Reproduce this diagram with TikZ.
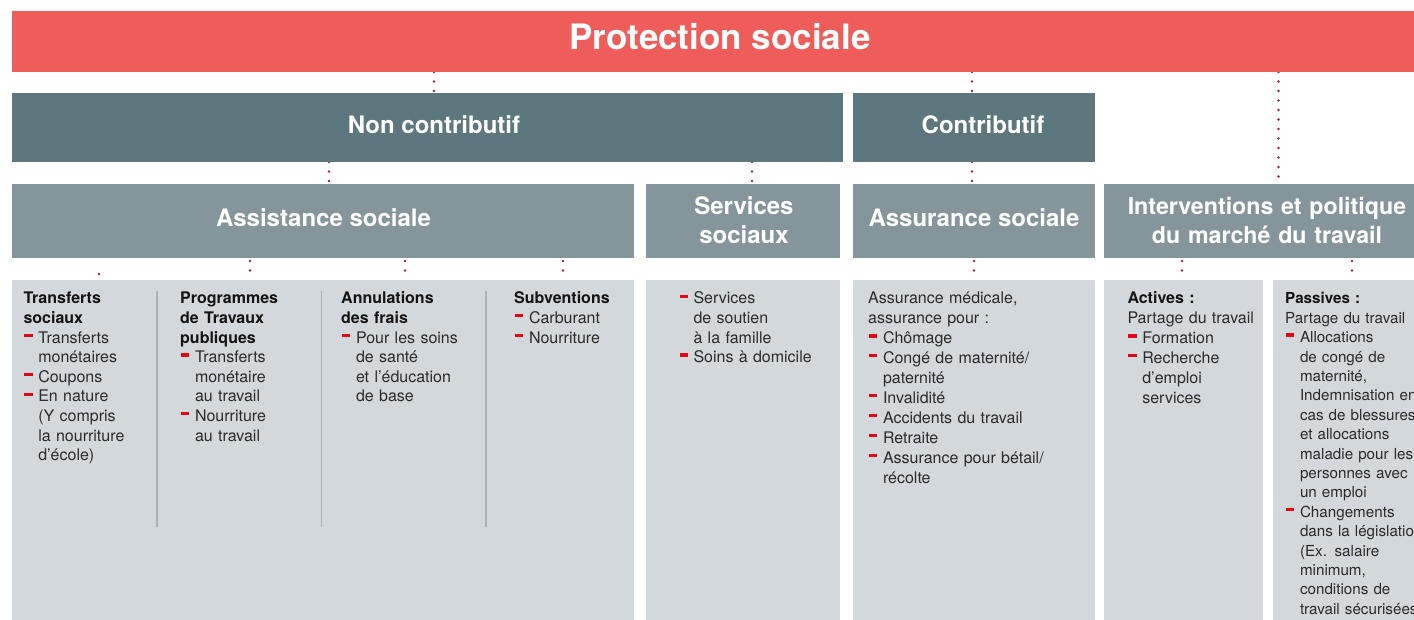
\documentclass[tikz,border=0pt]{standalone}
\usepackage{fontspec}
\setmainfont{TeX Gyre Heros}
\definecolor{protred}{HTML}{EE5D5A}
\definecolor{darkteal}{HTML}{5C777D}
\definecolor{midteal}{HTML}{84969B}
\definecolor{panelgray}{HTML}{D2D8DB}
\definecolor{dotred}{HTML}{A3202F}
\definecolor{bulred}{HTML}{E30613}
\definecolor{bodytext}{HTML}{2B2B2B}
\definecolor{headtext}{HTML}{141414}
\definecolor{divgray}{HTML}{A9B3B7}
\pgfdeclarelayer{bg}
\pgfsetlayers{bg,main}
\newcommand\bdash{\makebox[14.8pt][l]{\hspace{0.9pt}\textcolor{bulred}{\rule[6.2pt]{8.2pt}{3.2pt}}}}
\newcommand\bfirst{\noindent\hangindent=14.8pt\hangafter=1\bdash}
\newcommand\bitem{\par\bfirst}
\newcommand\hd[1]{\textbf{\textcolor{headtext}{#1}}}
\begin{document}
\begin{tikzpicture}[x=1pt,y=-1pt,
  box/.style={draw=none,inner sep=0pt,outer sep=0pt,anchor=north west},
  ttl/.style={anchor=base,text=white,inner sep=0pt,font=\bfseries\fontsize{24}{29}\selectfont},
  ttltwo/.style={ttl,text width=330pt,align=center},
  body/.style={anchor=base west,inner sep=0pt,text width=200pt,align=left,text=bodytext,font=\fontsize{16}{19.6}\selectfont},
  conn/.style={draw=dotred,line width=2.8pt,line cap=round,dash pattern=on 0pt off 9.5pt},
  divider/.style={draw=divgray,line width=1.2pt}]
\useasboundingbox (0,0) rectangle (1414,620);
\clip (0,0) rectangle (1414,620);

% header boxes
\node[box,fill=protred,minimum width=1416pt,minimum height=61pt] (prot) at (12,11) {};
\node[box,fill=darkteal,minimum width=831pt,minimum height=69pt] (nc) at (12,93) {};
\node[box,fill=darkteal,minimum width=242pt,minimum height=69pt] (ct) at (853,93) {};
\node[box,fill=midteal,minimum width=622pt,minimum height=74pt] (as) at (12,184) {};
\node[box,fill=midteal,minimum width=194pt,minimum height=74pt] (ss) at (646,184) {};
\node[box,fill=midteal,minimum width=242pt,minimum height=74pt] (asu) at (853,184) {};
\node[box,fill=midteal,minimum width=324pt,minimum height=74pt] (imt) at (1104,184) {};

% panels
\node[box,fill=panelgray,minimum width=622pt,minimum height=345pt] (pA) at (12,280) {};
\node[box,fill=panelgray,minimum width=194pt,minimum height=345pt] (pS) at (646,280) {};
\node[box,fill=panelgray,minimum width=242pt,minimum height=345pt] (pU) at (853,280) {};
\node[box,fill=panelgray,minimum width=159pt,minimum height=345pt] (pAct) at (1104,280) {};
\node[box,fill=panelgray,minimum width=155pt,minimum height=345pt] (pPas) at (1273,280) {};

% titles
\node[ttl,font=\bfseries\fontsize{35}{42}\selectfont] (tprot) at (720,49.3) {Protection sociale};
\node[ttl] (tnc) at (434,133.3) {Non contributif};
\node[ttl] (tct) at (983,133.3) {Contributif};
\node[ttl] (tas) at (323.5,226.7) {Assistance sociale};
\node[ttltwo] (tss) at (744,215) {Services\\sociaux};
\node[ttl] (tasu) at (974,226.7) {Assurance sociale};
\node[ttltwo,font=\bfseries\fontsize{23.2}{29}\selectfont] (timt) at (1267,215) {Interventions et politique\\du marché du travail};

% dividers
\draw[divider] (157,291) -- (157,527);
\draw[divider] (321.5,291) -- (321.5,527);
\draw[divider] (486,291) -- (486,527);

% body texts
\node[body] (b1) at (23.3,304) {\hd{Transferts}\newline\hd{sociaux}%
\bitem Transferts\newline monétaires%
\bitem Coupons%
\bitem En nature\newline (Y compris\newline la nourriture\newline d’école)\par};
\node[body] (b2) at (180,304) {\hd{Programmes}\newline\hd{de Travaux}\newline\hd{publiques}%
\bitem Transferts\newline monétaire\newline au travail%
\bitem Nourriture\newline au travail\par};
\node[body] (b3) at (341,304) {\hd{Annulations}\newline\hd{des frais}%
\bitem Pour les soins\newline de santé\newline et l’éducation\newline de base\par};
\node[body] (b4) at (514,304) {\hd{Subventions}%
\bitem Carburant%
\bitem Nourriture\par};
\node[body] (b5) at (678.5,304) {\bfirst Services\newline de soutien\newline à la famille%
\bitem Soins à domicile\par};
\node[body,font=\fontsize{16}{19.9}\selectfont] (b6) at (868,304) {Assurance médicale,\newline assurance pour :%
\bitem Chômage%
\bitem Congé de maternité/\newline paternité%
\bitem Invalidité%
\bitem Accidents du travail%
\bitem Retraite%
\bitem Assurance pour bétail/\newline récolte\par};
\node[body,font=\fontsize{16}{19.9}\selectfont] (b7) at (1127.3,304) {\hd{Actives :}\par\noindent Partage du travail%
\bitem Formation%
\bitem Recherche\newline d’emploi\newline services\par};
\node[body,font=\fontsize{15.2}{19.4}\selectfont] (b8) at (1285,304) {\hd{Passives :}\par\noindent Partage du travail%
\bitem Allocations\newline de congé de\newline maternité,\newline Indemnisation en\newline cas de blessures\newline et allocations\newline maladie pour les\newline personnes avec\newline un emploi%
\bitem Changements\newline dans la législation\newline (Ex. salaire\newline minimum,\newline conditions de\newline travail sécurisées)\par};

% connector x positions
\coordinate (k1) at (434,0);
\coordinate (k2) at (972,0);
\coordinate (k3) at (1278.5,0);
\coordinate (k4) at (329,0);
\coordinate (k5) at (752,0);
\coordinate (k6) at (99,274);
\coordinate (k7) at (250,0);
\coordinate (k8) at (405,0);
\coordinate (k9) at (563,0);
\coordinate (k10) at (974,0);
\coordinate (k11) at (1182,0);
\coordinate (k12) at (1352,0);

\begin{pgfonlayer}{bg}
\draw[conn] (prot.south -| k1) -- (nc.north -| k1);
\draw[conn] (prot.south -| k2) -- (ct.north -| k2);
\draw[conn] (prot.south -| k3) -- (imt.north -| k3);
\draw[conn] (nc.south -| k4) -- (as.north -| k4);
\draw[conn] (nc.south -| k5) -- (ss.north -| k5);
\draw[conn] (ct.south -| k2) -- (asu.north -| k2);
\draw[conn,dash pattern=on 0pt off 30pt] (k6) -- (pA.north -| k6);
\draw[conn,shorten <=3pt] (as.south -| k7) -- (pA.north -| k7);
\draw[conn,shorten <=3pt] (as.south -| k8) -- (pA.north -| k8);
\draw[conn,shorten <=3pt] (as.south -| k9) -- (pA.north -| k9);
\draw[conn,shorten <=3pt] (asu.south -| k10) -- (pU.north -| k10);
\draw[conn,shorten <=3pt] (imt.south -| k11) -- (pAct.north -| k11);
\draw[conn,shorten <=3pt] (imt.south -| k12) -- (pPas.north -| k12);
\end{pgfonlayer}
\end{tikzpicture}
\end{document}
